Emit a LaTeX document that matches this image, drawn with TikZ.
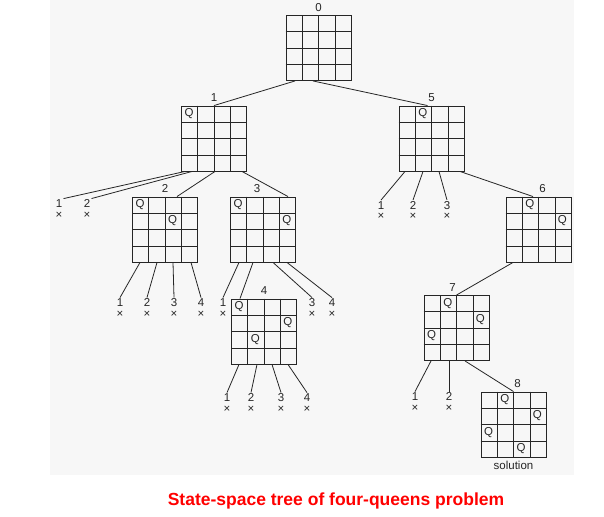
\documentclass[tikz,border=0pt]{standalone}
\usepackage{fontspec}
\setmainfont{Liberation Sans}
\usepackage{tikz}
\usetikzlibrary{calc}

\begin{document}
\begin{tikzpicture}[x=1pt,y=-1pt,label distance=1.5pt,
  board/.style={draw=black!85,line width=0.9pt,minimum size=65pt,inner sep=0pt},
  gridline/.style={draw=black!85,line width=0.9pt},
  num/.style={font=\fontsize{11.5}{11.5}\selectfont,text=black!85,inner sep=2pt},
  leaf/.style={font=\fontsize{11.5}{10.5}\selectfont,text=black!85,align=center,inner sep=1pt},
  queen/.style={font=\fontsize{11.5}{11.5}\selectfont,text=black!85,inner sep=0pt},
  edge/.style={draw=black!85,line width=0.8pt},
  caption/.style={font=\bfseries\fontsize{17.5}{18}\selectfont,text=red}]

\useasboundingbox (0,0) rectangle (604,516);
\fill[black!3] (50,0) rectangle (574,475); % scanned page

% Boards
\node[board,label={[num]above:0}] (b0) at (318.5,48) {};
\node[board,label={[num]above:1}] (b1) at (214,138.5) {};
\node[board,label={[num]above:5}] (b5) at (431.5,138.5) {};
\node[board,label={[num]above:2}] (b2) at (165,229.5) {};
\node[board,label={[num,xshift=-6pt]above:3}] (b3) at (263,229.5) {};
\node[board,label={[num,xshift=4pt]above:6}] (b6) at (538.5,229.5) {};
\node[board,label={[num]above:4}] (b4) at (264,331.5) {};
\node[board,label={[num,xshift=-4pt]above:7}] (b7) at (456.5,328) {};
\node[board,label={[num,xshift=4pt]above:8},label={[num]below:solution}] (b8) at (513.5,424.5) {};

% Grid lines
\foreach \b in {b0,b1,b2,b3,b4,b5,b6,b7,b8}{
  \foreach \i in {1,2,3}{
    \draw[gridline] ($(\b.north west)!\i/4!(\b.north east)$) -- ($(\b.south west)!\i/4!(\b.south east)$);
    \draw[gridline] ($(\b.north west)!\i/4!(\b.south west)$) -- ($(\b.north east)!\i/4!(\b.south east)$);
  }
}

% Queens (board/row/column)
\foreach \b/\r/\c in {b1/1/1,b5/1/2,b2/1/1,b2/2/3,b3/1/1,b3/2/4,b4/1/1,b4/2/4,b4/3/2,
  b6/1/2,b6/2/4,b7/1/2,b7/2/4,b7/3/1,b8/1/2,b8/2/4,b8/3/1,b8/4/3}
  \node[queen] (q-\b-\r) at ($(\b.north west)+({(\c-0.5)*16.25},{(\r-0.5)*16.25})$) {Q};

% Dead ends
\foreach \n/\t/\x/\y in {l1a/1/59/209,l1b/2/87/209,l5a/1/381/210.5,l5b/2/413/210.5,l5c/3/447/210.5,
  l2a/1/120/308,l2b/2/147/308,l2c/3/174/308,l2d/4/201/308,
  l3a/1/223/308,l3c/3/312/308,l3d/4/332/308,
  l4a/1/227/403,l4b/2/251/403,l4c/3/281/403,l4d/4/307/403,
  l7a/1/415/402,l7b/2/449/402}
  \node[leaf] (\n) at (\x,\y) {\t\\×};

% Edges
\draw[edge] ([xshift=-23.5pt]b0.south) -- (b1.north);
\draw[edge] ([xshift=-5.5pt]b0.south) -- ([xshift=-4pt]b5.north);

\draw[edge] ([xshift=-29pt]b1.south) -- (l1a.north east);
\draw[edge] ([xshift=-22pt]b1.south) -- (l1b.north east);
\draw[edge] ([xshift=1pt]b1.south) -- ([xshift=12pt]b2.north);
\draw[edge] ([xshift=28pt]b1.south) -- ([xshift=25pt]b3.north);

\draw[edge] ([xshift=-26.5pt]b5.south) -- (l5a.north);
\draw[edge] ([xshift=-8.5pt]b5.south) -- (l5b.north);
\draw[edge] ([xshift=7.5pt]b5.south) -- (l5c.north);
\draw[edge] ([xshift=28.5pt]b5.south) -- ([xshift=-5.5pt]b6.north);

\draw[edge] ([xshift=-25pt]b2.south) -- (l2a.north);
\draw[edge] ([xshift=-8pt]b2.south) -- (l2b.north);
\draw[edge] ([xshift=8pt]b2.south) -- (l2c.north);
\draw[edge] ([xshift=26pt]b2.south) -- (l2d.north);

\draw[edge] ([xshift=-24pt]b3.south) -- (l3a.north);
\draw[edge] ([xshift=-10pt]b3.south) -- ([xshift=-24pt]b4.north);
\draw[edge] ([xshift=10pt]b3.south) -- (l3c.north);
\draw[edge] ([xshift=24pt]b3.south) -- (l3d.north);

\draw[edge] ([xshift=-25pt]b4.south) -- (l4a.north);
\draw[edge] ([xshift=-7pt]b4.south) -- (l4b.north);
\draw[edge] ([xshift=8pt]b4.south) -- (l4c.north);
\draw[edge] ([xshift=24pt]b4.south) -- (l4d.north);

\draw[edge] ([xshift=-25.5pt]b6.south) -- (b7.north);

\draw[edge] ([xshift=-25.5pt]b7.south) -- (l7a.north);
\draw[edge] ([xshift=-7.5pt]b7.south) -- (l7b.north);
\draw[edge] ([xshift=8.5pt]b7.south) -- (b8.north);

% Caption
\node[caption] (title) at (336,501) {State-space tree of four-queens problem};

\end{tikzpicture}
\end{document}
